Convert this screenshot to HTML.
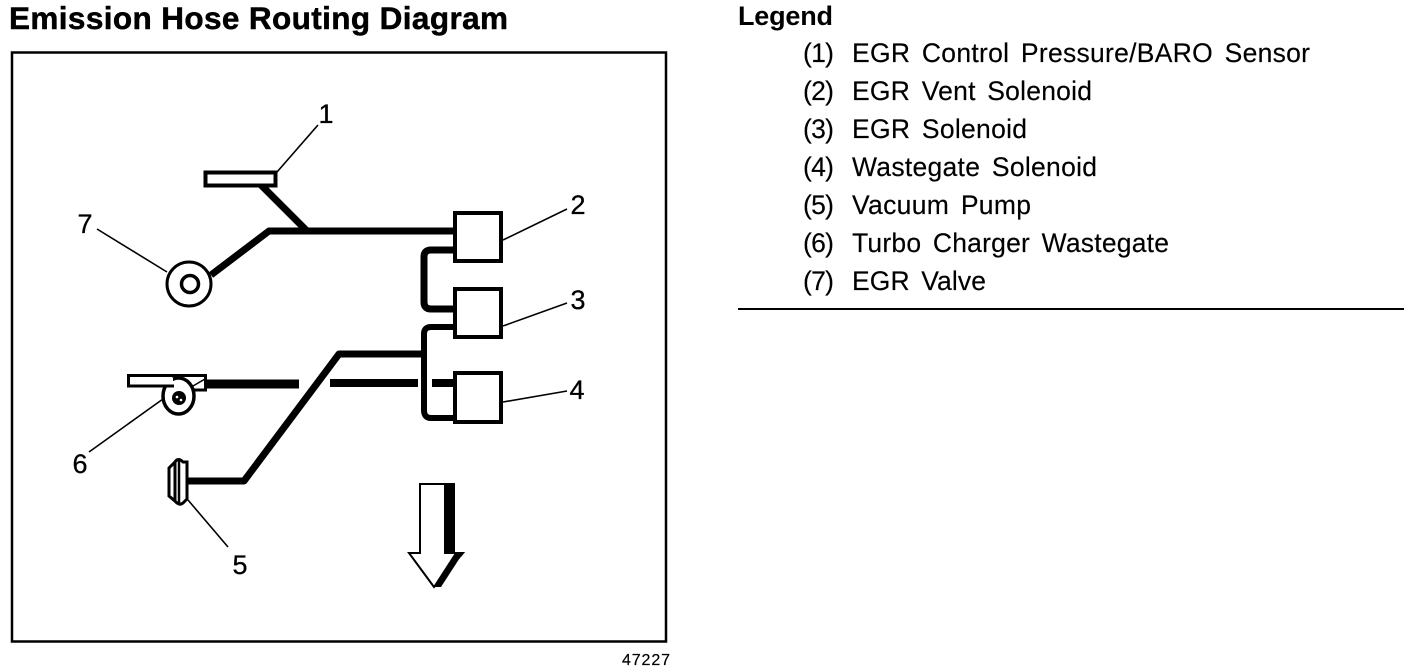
<!DOCTYPE html>
<html>
<head>
<meta charset="utf-8">
<title>Emission Hose Routing Diagram</title>
<style>
html,body{margin:0;padding:0;background:#fff;width:1424px;height:672px;overflow:hidden}
svg{display:block}
text{font-family:"Liberation Sans",Arial,sans-serif;fill:#000}
.lbl{font-size:27px;text-anchor:middle;stroke:#000;stroke-width:.3px}
.leg{font-size:26.5px;word-spacing:4px;stroke:#000;stroke-width:.15px}
</style>
</head>
<body>
<svg width="1424" height="672" viewBox="0 0 1424 672" xmlns="http://www.w3.org/2000/svg">
<rect width="1424" height="672" fill="#fff"/>
<text x="9" y="29" font-size="31.500" font-weight="bold" textLength="499" stroke="#000" stroke-width="0.5">Emission Hose Routing Diagram</text>
<text x="738" y="25" font-size="27" font-weight="bold" textLength="95">Legend</text>

<rect x="12" y="52.500" width="654" height="589" fill="none" stroke="#000" stroke-width="2.500"/>

<!-- hoses -->
<g fill="none" stroke="#000" stroke-linejoin="round" stroke-linecap="butt">
<path d="M211 275 L269 231 L454 231" stroke-width="7"/>
<path d="M261 185 L307 231" stroke-width="7"/>
<path d="M454 250 L431 250 Q424 250 424 257 L424 302 Q424 309 431 309 L454 309" stroke-width="7"/>
<path d="M454 327 L431 327 Q424 327 424 334 L424 410 Q424 418 431 418 L454 418" stroke-width="6"/>
<path d="M188 481 L244 481 L339 354 L424 354" stroke-width="7"/>
<path d="M206 384 L299 384" stroke-width="9"/>
<path d="M330 383 L418 383" stroke-width="8"/>
<path d="M432 383 L454 383" stroke-width="8"/>
</g>

<!-- solenoids -->
<g fill="#fff" stroke="#000" stroke-width="4">
<rect x="455" y="213" width="46" height="48"/>
<rect x="455" y="289" width="46" height="48"/>
<rect x="455" y="373" width="46" height="49"/>
<rect x="205.500" y="172.500" width="70" height="13"/>
</g>

<!-- EGR valve -->
<circle cx="189" cy="284" r="22" fill="#fff" stroke="#000" stroke-width="3"/>
<circle cx="190" cy="284" r="8.500" fill="#fff" stroke="#000" stroke-width="3.500"/>

<!-- turbo -->
<path d="M128.500 375.500 L205.500 375.500 L205.500 390 L190 390 L190 386 L128.500 386 Z" fill="#fff" stroke="#000" stroke-width="3"/>
<path d="M193 386 L205 379" stroke="#000" stroke-width="1.500" fill="none"/>
<ellipse cx="178.500" cy="396" rx="15.500" ry="18" fill="#fff" stroke="#000" stroke-width="3.500"/>
<rect x="131" y="378" width="42" height="6.500" fill="#fff"/>
<path d="M160 386 L174 386" stroke="#000" stroke-width="3"/>
<circle cx="179" cy="398" r="7" fill="#000"/>
<circle cx="177" cy="397" r="1.300" fill="#fff"/>
<circle cx="181" cy="400" r="1.300" fill="#fff"/>

<!-- vacuum pump -->
<path d="M175 462 L169 468 L169 496 L175 501 Z" fill="#fff" stroke="#000" stroke-width="3"/>
<path d="M175 462 Q178 457 183 462 L187 462 L187 499 L183 503 Q179 506 175 501 Z" fill="#fff" stroke="#000" stroke-width="3"/>
<path d="M179 460 L179 504" stroke="#000" stroke-width="2.500"/>

<!-- arrow -->
<path d="M420 484 L454 484 L454 553 L463 553 L434 587 L409 553 L420 553 Z" fill="#fff" stroke="#000" stroke-width="2"/>
<rect x="444" y="483" width="10" height="71" fill="#000"/>
<path d="M433 587 L455 553 L463 553 L441 587 Z" fill="#000"/>

<!-- leaders -->
<g stroke="#000" stroke-width="1.600" fill="none">
<path d="M277 172 L318 125"/>
<path d="M167 272 L97 229"/>
<path d="M503 240 L567 209"/>
<path d="M503 326 L567 303"/>
<path d="M503 402 L567 391"/>
<path d="M163 399 L89 452"/>
<path d="M188 500 L228 547"/>
</g>

<!-- callouts -->
<text class="lbl" x="326" y="123">1</text>
<text class="lbl" x="578" y="214">2</text>
<text class="lbl" x="578" y="309">3</text>
<text class="lbl" x="577" y="399">4</text>
<text class="lbl" x="240" y="574">5</text>
<text class="lbl" x="80" y="473">6</text>
<text class="lbl" x="85" y="233">7</text>

<text x="622" y="665" font-size="16" textLength="48" stroke="#000" stroke-width="0.2">47227</text>

<!-- legend -->
<text class="leg" x="803" y="62" textLength="31">(1)</text>
<text class="leg" x="852" y="62" textLength="458">EGR Control Pressure/BARO Sensor</text>
<text class="leg" x="803" y="100" textLength="31">(2)</text>
<text class="leg" x="852" y="100" textLength="240">EGR Vent Solenoid</text>
<text class="leg" x="803" y="138" textLength="31">(3)</text>
<text class="leg" x="852" y="138" textLength="175">EGR Solenoid</text>
<text class="leg" x="803" y="176" textLength="31">(4)</text>
<text class="leg" x="852" y="176" textLength="245">Wastegate Solenoid</text>
<text class="leg" x="803" y="214" textLength="31">(5)</text>
<text class="leg" x="852" y="214" textLength="179">Vacuum Pump</text>
<text class="leg" x="803" y="252" textLength="31">(6)</text>
<text class="leg" x="852" y="252" textLength="317">Turbo Charger Wastegate</text>
<text class="leg" x="803" y="290" textLength="31">(7)</text>
<text class="leg" x="852" y="290" textLength="134">EGR Valve</text>
<rect x="738" y="308" width="666" height="2" fill="#000"/>
</svg>
</body>
</html>
